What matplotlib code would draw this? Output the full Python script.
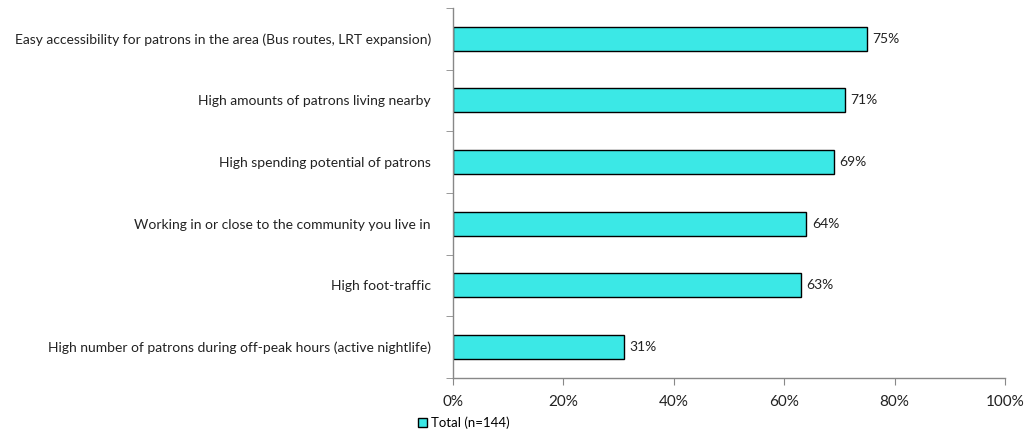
import matplotlib.pyplot as plt
import numpy as np
from matplotlib.patches import Patch

categories = [
    "Easy accessibility for patrons in the area (Bus routes, LRT expansion)",
    "High amounts of patrons living nearby",
    "High spending potential of patrons",
    "Working in or close to the community you live in",
    "High foot-traffic",
    "High number of patrons during off-peak hours (active nightlife)",
]
values = [75, 71, 69, 64, 63, 31]
xticks = [0, 20, 40, 60, 80, 100]
series_label = "Total (n=144)"

plt.rcParams['font.family'] = ['Lato', 'DejaVu Sans']

fig = plt.figure(figsize=(10.27, 4.34), dpi=100)
ax = fig.add_axes([0.4411, 0.129, 0.5375, 0.853])

n = len(categories)
ypos = np.arange(n)
bar_color = "#3BE8E6"
ax.barh(ypos, values, height=0.39, color=bar_color, edgecolor="black", linewidth=1.0)

for y, v in zip(ypos, values):
    ax.text(v + 1.0, y, f"{v}%", va="center", ha="left", fontsize=10, color="#222222")

ax.set_ylim(n - 0.5, -0.5)
ax.set_xlim(0, 100)
ax.set_yticks(ypos)
ax.set_yticklabels(categories, fontsize=10, color="#222222")
ax.tick_params(axis="y", which="major", length=0, pad=16)
ax.set_yticks(np.arange(-0.5, n, 1.0), minor=True)
ax.tick_params(axis="y", which="minor", length=5, color="#888888", direction="out")

ax.set_xticks(xticks)
ax.set_xticklabels([f"{t}%" for t in xticks], fontsize=11, color="#222222")
ax.tick_params(axis="x", length=5, color="#888888", direction="out", pad=7)

for s in ["top", "right"]:
    ax.spines[s].set_visible(False)
for s in ["left", "bottom"]:
    ax.spines[s].set_color("#888888")
    ax.spines[s].set_linewidth(1.0)

handle = Patch(facecolor=bar_color, edgecolor="black", linewidth=1.0)
fig.legend([handle], [series_label], loc="center left",
           bbox_to_anchor=(0.407, 0.025), frameon=False, fontsize=9.5,
           handlelength=0.7, handleheight=0.7, handletextpad=0.3,
           borderaxespad=0, borderpad=0)

fig.savefig("out.png", dpi=100)
